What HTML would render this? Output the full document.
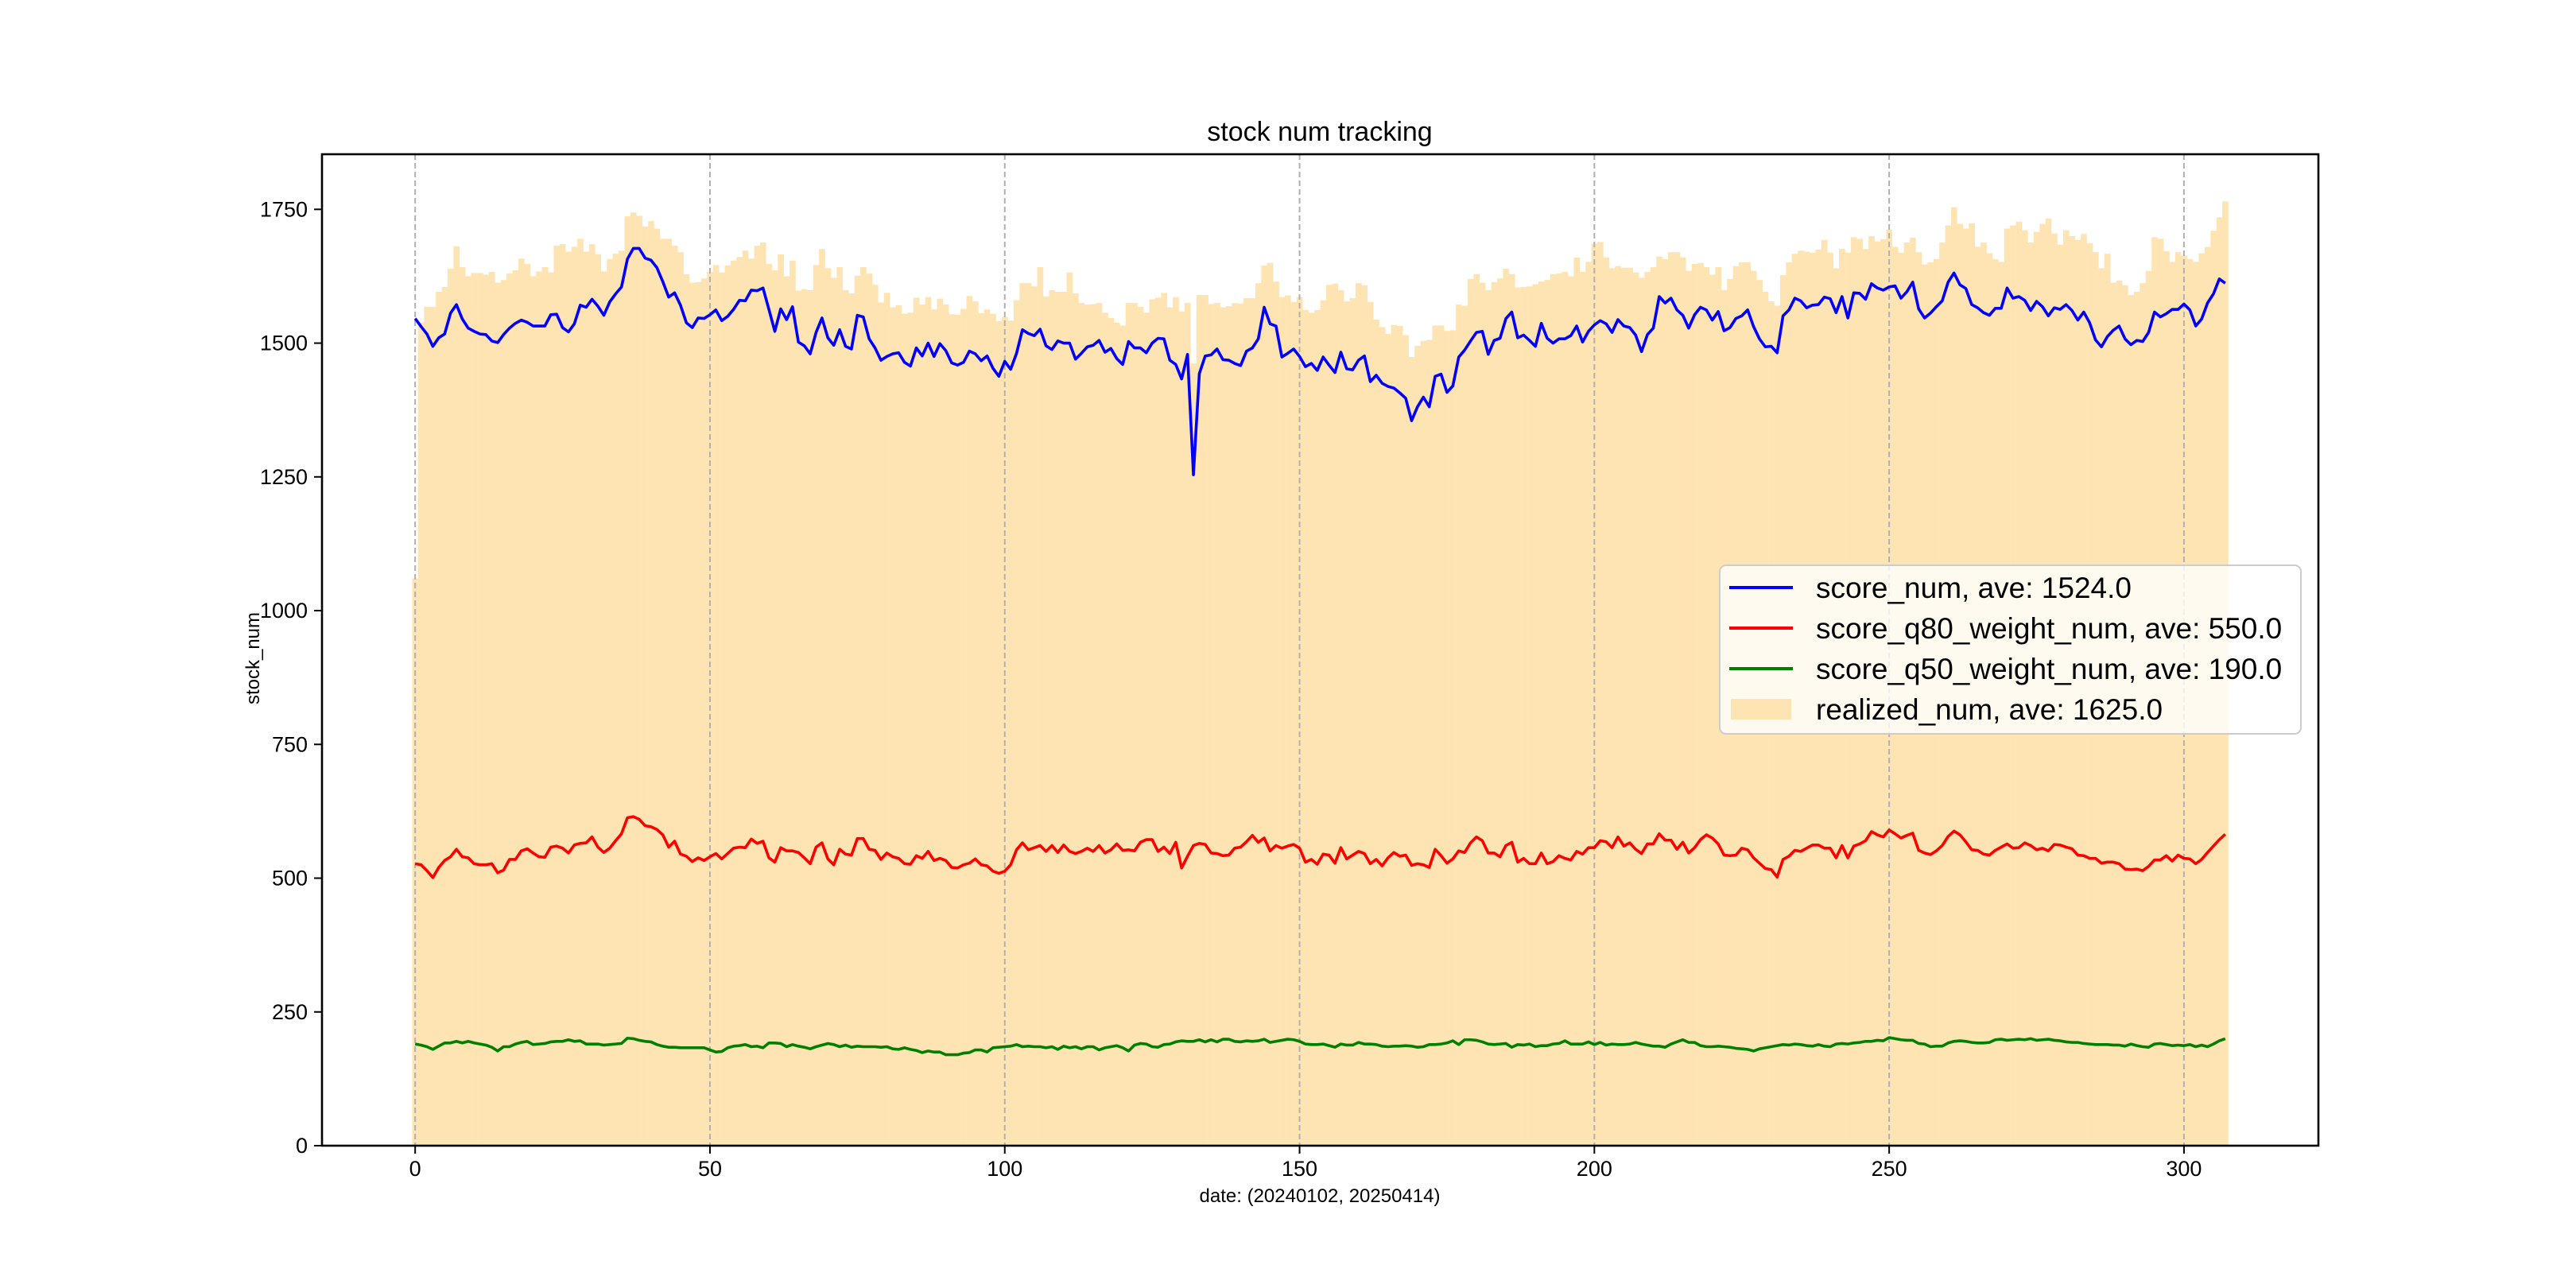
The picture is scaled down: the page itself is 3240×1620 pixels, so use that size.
<!DOCTYPE html>
<html><head><meta charset="utf-8"><style>
html,body{margin:0;padding:0;background:#fff;}
svg{display:block;font-family:"WenQuanYi Zen Hei","Liberation Sans",sans-serif;}
</style></head><body>
<svg id="chart" width="3240" height="1620" viewBox="0 0 3240 1620" xmlns="http://www.w3.org/2000/svg">
<rect width="3240" height="1620" fill="#fff"/>
<g id="bars"></g>
<g id="grid"></g>
<g id="lines"></g>
<g id="axes"></g>
<text x="1660" y="177" font-size="34" text-anchor="middle">stock num tracking</text>
<text x="1660" y="1512" font-size="24" text-anchor="middle">date: (20240102, 20250414)</text>
<text x="0" y="0" font-size="24" text-anchor="middle" transform="translate(326,828) rotate(-90)">stock_num</text>
<g id="legend">
<rect x="2163" y="711" width="731" height="212" rx="8" fill="rgba(255,255,255,0.8)" stroke="#cccccc" stroke-width="2"/>
<line x1="2175" y1="739" x2="2255" y2="739" stroke="#0000ff" stroke-width="4"/>
<text x="2284" y="752" font-size="37">score_num, ave: 1524.0</text>
<line x1="2175" y1="790" x2="2255" y2="790" stroke="#ff0000" stroke-width="4"/>
<text x="2284" y="803" font-size="37">score_q80_weight_num, ave: 550.0</text>
<line x1="2175" y1="841" x2="2255" y2="841" stroke="#008000" stroke-width="4"/>
<text x="2284" y="854" font-size="37">score_q50_weight_num, ave: 190.0</text>
<rect x="2177" y="879" width="76" height="26" fill="#ffe4b3"/>
<text x="2284" y="905" font-size="37">realized_num, ave: 1625.0</text>
</g>
</svg>
<script>
const xTicks = [0,50,100,150,200,250,300];
const yTicks = [0,250,500,750,1000,1250,1500,1750];
const realized = [1060,1538,1568,1568,1596,1605,1639,1681,1642,1625,1631,
1631,1628,1633,1613,1618,1630,1636,1658,1648,1625,
1634,1642,1632,1682,1685,1671,1680,1695,1671,1685,
1666,1634,1657,1667,1673,1737,1744,1738,1718,1728,
1714,1695,1695,1682,1670,1629,1613,1614,1621,1633,
1646,1632,1645,1654,1661,1673,1658,1682,1688,1648,
1636,1666,1625,1654,1598,1601,1599,1646,1676,1640,
1622,1642,1599,1593,1626,1642,1630,1609,1576,1594,
1567,1571,1555,1557,1585,1572,1586,1563,1583,1572,
1554,1553,1564,1588,1578,1556,1563,1555,1541,1549,
1542,1580,1612,1612,1606,1642,1587,1599,1596,1596,
1632,1593,1575,1572,1573,1575,1557,1547,1538,1533,
1575,1575,1568,1557,1582,1585,1594,1567,1586,1559,
1575,1462,1590,1590,1573,1575,1567,1569,1575,1574,
1584,1584,1612,1645,1650,1615,1586,1589,1577,1586,
1562,1557,1562,1580,1609,1611,1599,1578,1584,1612,
1608,1577,1544,1530,1517,1534,1532,1515,1474,1495,
1504,1506,1533,1533,1523,1524,1572,1570,1620,1629,
1613,1599,1614,1621,1639,1629,1604,1605,1606,1610,
1615,1618,1629,1630,1633,1625,1660,1633,1652,1686,
1689,1660,1640,1644,1641,1641,1632,1622,1633,1642,
1662,1657,1670,1670,1660,1635,1648,1650,1642,1628,
1642,1599,1620,1644,1651,1651,1635,1618,1596,1578,
1570,1627,1651,1667,1673,1671,1669,1675,1693,1669,
1640,1676,1669,1698,1695,1676,1700,1690,1694,1712,
1680,1669,1688,1697,1670,1647,1651,1657,1688,1720,
1754,1723,1714,1724,1680,1688,1668,1657,1652,1714,
1720,1727,1711,1688,1708,1723,1733,1705,1684,1711,
1700,1693,1704,1687,1670,1640,1667,1613,1617,1608,
1590,1596,1612,1635,1698,1695,1672,1652,1670,1664,
1657,1652,1668,1680,1710,1735,1765];
const scoreNum = [1546,1531,1517,1494,1510,1517,1556,1572,1545,1528,1522,
1517,1516,1504,1501,1516,1528,1537,1543,1539,1532,
1532,1532,1553,1554,1529,1521,1536,1571,1567,1582,
1569,1552,1577,1592,1605,1657,1677,1677,1659,1655,
1641,1615,1586,1594,1571,1538,1529,1547,1546,1553,
1562,1542,1550,1563,1580,1579,1599,1598,1603,1563,
1522,1564,1544,1568,1502,1495,1480,1520,1547,1510,
1496,1525,1494,1489,1552,1549,1508,1491,1468,1475,
1480,1482,1464,1457,1491,1476,1500,1475,1499,1486,
1463,1459,1464,1485,1480,1467,1476,1453,1438,1466,
1451,1481,1525,1518,1514,1526,1495,1488,1504,1500,
1500,1470,1481,1493,1496,1505,1483,1490,1471,1460,
1503,1491,1491,1482,1500,1509,1508,1468,1460,1433,
1479,1254,1443,1476,1478,1489,1469,1468,1462,1458,
1485,1491,1508,1567,1536,1532,1474,1481,1489,1475,
1456,1462,1449,1474,1459,1445,1483,1452,1450,1468,
1476,1428,1440,1425,1419,1416,1407,1397,1355,1381,
1399,1381,1438,1442,1408,1420,1474,1487,1504,1520,
1522,1479,1505,1509,1546,1558,1510,1515,1505,1494,
1537,1509,1500,1508,1508,1514,1532,1502,1522,1534,
1542,1536,1520,1544,1532,1529,1515,1484,1516,1528,
1587,1575,1584,1562,1552,1528,1553,1567,1562,1543,
1559,1523,1529,1546,1551,1562,1531,1508,1493,1494,
1482,1551,1562,1584,1579,1566,1571,1572,1586,1583,
1557,1587,1547,1594,1593,1582,1611,1603,1599,1605,
1607,1584,1596,1614,1564,1547,1556,1568,1579,1614,
1631,1609,1602,1572,1566,1557,1552,1565,1565,1603,
1584,1587,1580,1561,1578,1568,1551,1566,1563,1572,
1561,1543,1558,1538,1506,1493,1512,1524,1532,1508,
1497,1505,1503,1520,1558,1549,1555,1563,1563,1573,
1562,1532,1545,1575,1592,1620,1612];
const q80Num = [527,525,514,501,520,533,540,554,540,538,527,
525,525,527,510,515,535,535,551,555,547,
540,539,558,560,556,547,562,565,566,577,
558,548,556,570,583,613,615,610,598,596,
591,581,558,569,545,541,531,538,533,540,
546,536,546,556,558,557,573,565,569,538,
530,557,551,551,548,538,527,558,566,536,
525,554,545,543,574,574,554,552,535,547,
540,537,527,526,542,537,550,533,537,533,
520,519,525,528,536,525,523,513,509,513,
525,553,566,553,557,561,550,561,548,562,
550,546,550,556,550,561,547,553,564,552,
553,551,567,572,572,550,558,546,567,519,
541,561,565,563,547,546,542,543,556,558,
568,580,567,575,551,561,556,560,563,556,
530,535,526,545,543,528,557,536,543,550,
546,527,535,523,538,548,541,543,524,527,
525,520,554,542,528,536,551,548,566,577,
570,547,547,540,561,567,530,537,527,527,
547,527,531,542,537,534,550,545,557,557,
570,568,557,577,560,566,554,546,564,564,
583,571,571,554,567,547,557,572,581,575,
564,543,542,543,556,553,538,528,518,516,
502,535,541,552,550,556,562,562,556,556,
538,561,538,560,564,570,587,581,577,590,
583,575,580,584,552,547,544,551,561,578,
588,581,568,553,552,545,543,552,558,564,
556,557,566,561,553,556,551,563,562,558,
555,543,542,537,537,528,530,530,527,517,
516,517,514,522,534,534,542,532,543,537,
536,527,535,548,560,572,582];
const q50Num = [190,188,185,180,186,192,192,195,192,195,192,
190,188,184,177,185,185,190,193,195,189,
190,191,194,195,195,198,195,196,190,190,
190,188,189,190,191,201,200,197,195,194,
189,186,184,184,183,183,183,183,183,179,
175,176,183,186,187,189,185,186,183,192,
192,191,185,189,186,184,181,185,188,191,
189,185,188,184,186,185,185,185,184,185,
181,180,183,180,178,174,177,175,175,170,
170,170,173,174,179,179,175,183,184,185,
186,189,185,186,185,185,183,185,180,186,
183,185,181,185,185,179,183,185,187,183,
177,188,191,190,185,184,189,190,194,196,
195,195,198,194,198,194,199,199,195,194,
196,195,196,199,193,195,197,199,198,195,
190,189,189,190,187,184,190,188,188,193,
190,190,189,186,185,186,186,187,186,184,
185,189,189,190,192,196,189,198,198,197,
194,190,189,190,191,184,189,188,190,185,
187,187,190,191,196,190,190,190,194,189,
193,188,190,189,189,190,193,190,188,186,
186,184,190,194,198,193,193,187,185,185,
186,185,184,182,181,180,177,181,183,185,
187,189,188,190,189,187,186,189,186,185,
190,191,190,192,193,195,195,197,196,202,
200,198,197,197,191,190,185,186,186,192,
195,196,195,193,192,192,193,198,199,197,
198,199,198,200,197,198,199,197,196,194,
193,193,191,190,189,189,189,188,188,186,
190,187,185,184,190,191,189,187,188,187,
189,185,188,185,190,196,200];

const NS = "http://www.w3.org/2000/svg";
const L = 405, R = 2916, T = 194, B = 1441;
const xmin = -15.8, xmax = 322.8, ymin = 0, ymax = 1853;
function xs(v){ return L + (v - xmin) / (xmax - xmin) * (R - L); }
function ys(v){ return B - (v - ymin) / (ymax - ymin) * (B - T); }
function mk(tag, attrs, parent){
  const e = document.createElementNS(NS, tag);
  for (const k in attrs) e.setAttribute(k, attrs[k]);
  parent.appendChild(e);
  return e;
}
const gb = document.getElementById('bars');
realized.forEach((v, i) => {
  const x0 = xs(i - 0.5), x1 = xs(i + 0.5);
  const r = mk('rect', {x: x0.toFixed(2), y: ys(v).toFixed(2), width: (x1 - x0 + 0.3).toFixed(2), height: (ys(0) - ys(v)).toFixed(2), fill: '#ffe4b3'}, gb);
  
  
});
const gg = document.getElementById('grid');
xTicks.forEach(t => {
  const l = mk('line', {x1: xs(t), x2: xs(t), y1: T, y2: B, stroke: '#b0b0b0', 'stroke-width': 2, 'stroke-dasharray': '7,4'}, gg);
  
  
});
const gl = document.getElementById('lines');
function series(arr, color, name){
  const pts = arr.map((v, i) => xs(i).toFixed(2) + ',' + ys(v).toFixed(2)).join(' ');
  const p = mk('polyline', {points: pts, fill: 'none', stroke: color, 'stroke-width': 3.6, 'stroke-linejoin': 'round'}, gl);
  
  
}
series(scoreNum, '#0000ff', 'score-num-line');
series(q80Num, '#ff0000', 'score-q80-weight-num-line');
series(q50Num, '#008000', 'score-q50-weight-num-line');
const ga = document.getElementById('axes');
const frame = mk('rect', {x: L, y: T, width: R - L, height: B - T, fill: 'none', stroke: '#000', 'stroke-width': 2.6}, ga);


xTicks.forEach(t => {
  mk('line', {x1: xs(t), x2: xs(t), y1: B, y2: B + 10, stroke: '#000', 'stroke-width': 2}, ga);
  const tx = mk('text', {x: xs(t), y: B + 38, 'font-size': 27, 'text-anchor': 'middle'}, ga);
  tx.textContent = t;
  
  
});
yTicks.forEach(t => {
  mk('line', {x1: L - 10, x2: L, y1: ys(t), y2: ys(t), stroke: '#000', 'stroke-width': 2}, ga);
  const tx = mk('text', {x: L - 18, y: ys(t) + 9, 'font-size': 27, 'text-anchor': 'end'}, ga);
  tx.textContent = t;
  
  
});
</script>
</body></html>
